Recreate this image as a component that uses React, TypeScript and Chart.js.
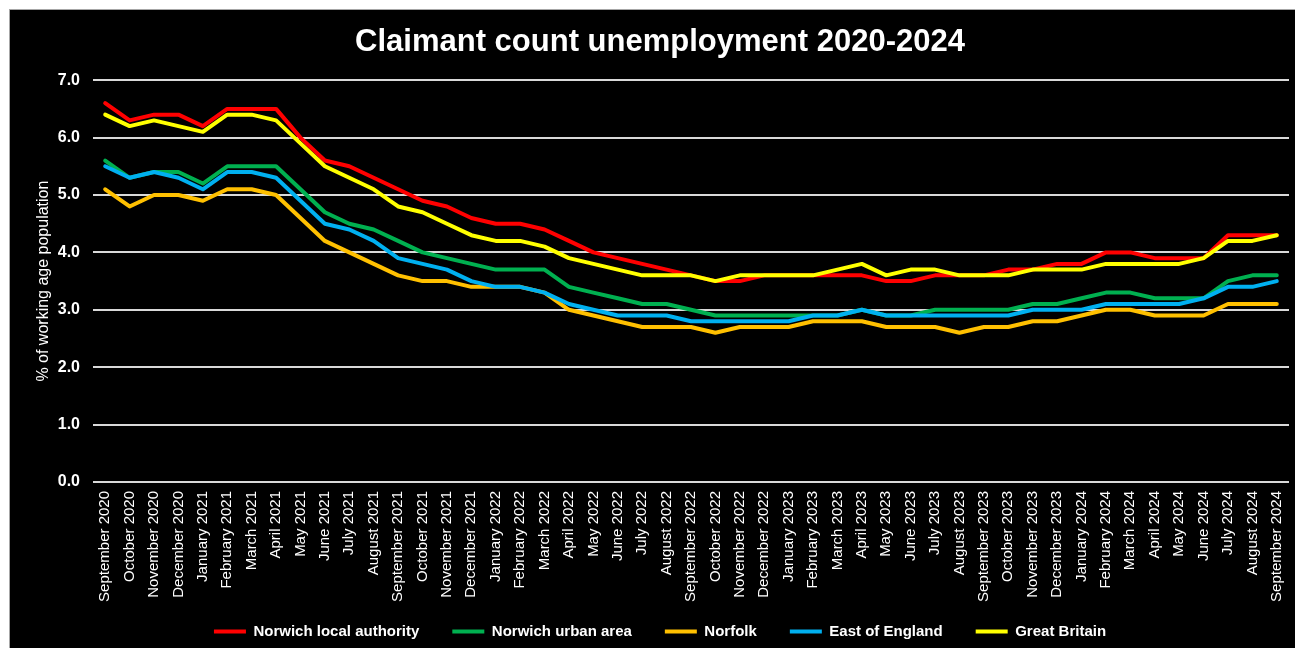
import React, { useEffect, useRef } from "react";
import { Chart, registerables } from "chart.js";

Chart.register(...registerables);

const months: string[] = [
  "September 2020", "October 2020", "November 2020", "December 2020",
  "January 2021", "February 2021", "March 2021", "April 2021", "May 2021", "June 2021",
  "July 2021", "August 2021", "September 2021", "October 2021", "November 2021", "December 2021",
  "January 2022", "February 2022", "March 2022", "April 2022", "May 2022", "June 2022",
  "July 2022", "August 2022", "September 2022", "October 2022", "November 2022", "December 2022",
  "January 2023", "February 2023", "March 2023", "April 2023", "May 2023", "June 2023",
  "July 2023", "August 2023", "September 2023", "October 2023", "November 2023", "December 2023",
  "January 2024", "February 2024", "March 2024", "April 2024", "May 2024", "June 2024",
  "July 2024", "August 2024", "September 2024",
];

const norwichLA: number[] = [
  6.6, 6.3, 6.4, 6.4, 6.2, 6.5, 6.5, 6.5, 6.0, 5.6, 5.5, 5.3, 5.1, 4.9, 4.8, 4.6,
  4.5, 4.5, 4.4, 4.2, 4.0, 3.9, 3.8, 3.7, 3.6, 3.5, 3.5, 3.6, 3.6, 3.6, 3.6, 3.6,
  3.5, 3.5, 3.6, 3.6, 3.6, 3.7, 3.7, 3.8, 3.8, 4.0, 4.0, 3.9, 3.9, 3.9, 4.3, 4.3, 4.3,
];
const norwichUrban: number[] = [
  5.6, 5.3, 5.4, 5.4, 5.2, 5.5, 5.5, 5.5, 5.1, 4.7, 4.5, 4.4, 4.2, 4.0, 3.9, 3.8,
  3.7, 3.7, 3.7, 3.4, 3.3, 3.2, 3.1, 3.1, 3.0, 2.9, 2.9, 2.9, 2.9, 2.9, 2.9, 3.0,
  2.9, 2.9, 3.0, 3.0, 3.0, 3.0, 3.1, 3.1, 3.2, 3.3, 3.3, 3.2, 3.2, 3.2, 3.5, 3.6, 3.6,
];
const norfolk: number[] = [
  5.1, 4.8, 5.0, 5.0, 4.9, 5.1, 5.1, 5.0, 4.6, 4.2, 4.0, 3.8, 3.6, 3.5, 3.5, 3.4,
  3.4, 3.4, 3.3, 3.0, 2.9, 2.8, 2.7, 2.7, 2.7, 2.6, 2.7, 2.7, 2.7, 2.8, 2.8, 2.8,
  2.7, 2.7, 2.7, 2.6, 2.7, 2.7, 2.8, 2.8, 2.9, 3.0, 3.0, 2.9, 2.9, 2.9, 3.1, 3.1, 3.1,
];
const eastOfEngland: number[] = [
  5.5, 5.3, 5.4, 5.3, 5.1, 5.4, 5.4, 5.3, 4.9, 4.5, 4.4, 4.2, 3.9, 3.8, 3.7, 3.5,
  3.4, 3.4, 3.3, 3.1, 3.0, 2.9, 2.9, 2.9, 2.8, 2.8, 2.8, 2.8, 2.8, 2.9, 2.9, 3.0,
  2.9, 2.9, 2.9, 2.9, 2.9, 2.9, 3.0, 3.0, 3.0, 3.1, 3.1, 3.1, 3.1, 3.2, 3.4, 3.4, 3.5,
];
const greatBritain: number[] = [
  6.4, 6.2, 6.3, 6.2, 6.1, 6.4, 6.4, 6.3, 5.9, 5.5, 5.3, 5.1, 4.8, 4.7, 4.5, 4.3,
  4.2, 4.2, 4.1, 3.9, 3.8, 3.7, 3.6, 3.6, 3.6, 3.5, 3.6, 3.6, 3.6, 3.6, 3.7, 3.8,
  3.6, 3.7, 3.7, 3.6, 3.6, 3.6, 3.7, 3.7, 3.7, 3.8, 3.8, 3.8, 3.8, 3.9, 4.2, 4.2, 4.3,
];

const seriesNames: string[] = [
  "Norwich local authority", "Norwich urban area", "Norfolk", "East of England", "Great Britain",
];
const seriesColors: string[] = ["#ff0000", "#00b050", "#ffc000", "#00b0f0", "#ffff00"];
const seriesData: number[][] = [norwichLA, norwichUrban, norfolk, eastOfEngland, greatBritain];
const drawOrder: number[] = [4, 3, 2, 1, 0];

const chartTitle = "Claimant count unemployment 2020-2024";
const yAxisTitle = "% of working age population";
const yMin = 0;
const yMax = 7;
const yStep = 1;

const FONT = "'Liberation Sans', Arial, sans-serif";

export default function App() {
  const ref = useRef<HTMLCanvasElement | null>(null);

  useEffect(() => {
    if (!ref.current) return;
    const chart = new Chart(ref.current, {
      type: "line",
      data: {
        labels: months,
        datasets: seriesNames.map((name, i) => ({
          label: name,
          data: seriesData[i],
          borderColor: seriesColors[i],
          backgroundColor: seriesColors[i],
          borderWidth: 4,
          pointRadius: 0,
          pointHoverRadius: 0,
          tension: 0,
          borderJoinStyle: "round" as const,
          borderCapStyle: "round" as const,
          order: drawOrder[i],
          fill: false,
        })),
      },
      options: {
        animation: false,
        responsive: false,
        maintainAspectRatio: false,
        layout: { padding: { left: 21, right: 21, top: 0, bottom: 0 } },
        plugins: {
          title: {
            display: true,
            text: chartTitle,
            color: "#ffffff",
            font: { family: FONT, size: 31, weight: "bold" },
            padding: { top: 14, bottom: 19 },
          },
          legend: {
            position: "bottom",
            labels: {
              color: "#ffffff",
              font: { family: FONT, size: 15, weight: "bold" },
              usePointStyle: true,
              pointStyle: "line",
              pointStyleWidth: 32,
              boxWidth: 32,
              padding: 33,
              sort: (a: any, b: any) => a.datasetIndex - b.datasetIndex,
            },
          },
          tooltip: { enabled: false },
        },
        scales: {
          x: {
            offset: true,
            grid: { display: false, drawTicks: false },
            border: { display: false },
            ticks: {
              color: "#ffffff",
              font: { family: FONT, size: 15 },
              minRotation: 90,
              maxRotation: 90,
              autoSkip: false,
              padding: 9,
            },
            afterFit: (scale: any) => {
              scale.height = 109;
              scale._computeLabelArea = () => undefined;
            },
          },
          y: {
            min: yMin,
            max: yMax,
            grid: { color: "#d9d9d9", lineWidth: 2, drawTicks: false },
            border: { display: false },
            ticks: {
              stepSize: yStep,
              color: "#ffffff",
              font: { family: FONT, size: 16, weight: "bold" },
              padding: 13,
              callback: (v: any) => Number(v).toFixed(1),
            },
            title: {
              display: true,
              text: yAxisTitle,
              color: "#ffffff",
              font: { family: FONT, size: 16 },
              padding: { top: 3, bottom: 0 },
            },
            afterFit: (scale: any) => {
              scale.width = 62;
            },
          },
        },
      },
    });
    return () => chart.destroy();
  }, []);

  return (
    <div
      style={{
        position: "absolute",
        left: 9,
        top: 9,
        width: 1286,
        height: 639,
        overflow: "hidden",
        background: "#000000",
        borderLeft: "1px solid #a6a6a6",
        borderTop: "1px solid #a6a6a6",
        boxSizing: "border-box",
      }}
    >
      <canvas ref={ref} width={1300} height={639} style={{ display: "block" }} />
    </div>
  );
}
